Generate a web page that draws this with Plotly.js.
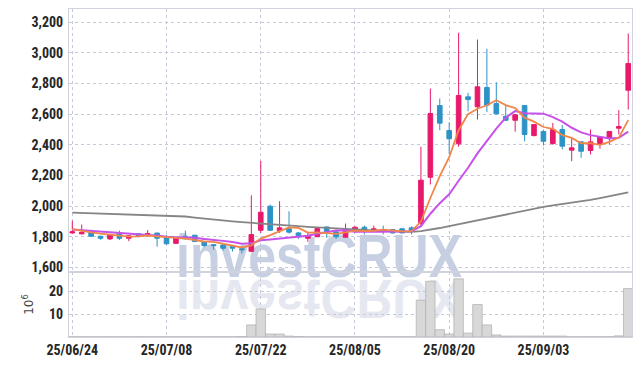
<!DOCTYPE html>
<html><head><meta charset="utf-8">
<script src="https://cdn.plot.ly/plotly-3.0.1.min.js"></script>
<style>
html,body{margin:0;padding:0;background:#fff;}
#wrap{position:relative;width:642px;height:366px;overflow:hidden;}
#wm{position:absolute;left:0;top:0;z-index:0;}
#chart{position:absolute;left:0;top:0;width:642px;height:366px;z-index:1;}
</style></head><body>
<div id="wrap">
<svg id="wm" width="642" height="366">
  <text x="176" y="277" font-family="Liberation Sans, Arial, sans-serif" font-weight="bold" font-size="62" textLength="286" lengthAdjust="spacingAndGlyphs" fill="#c7cfe2">investCRUX</text>
  <g transform="translate(0,280) scale(1,-0.9) translate(0,-280)">
    <text x="176" y="280" font-family="Liberation Sans, Arial, sans-serif" font-weight="bold" font-size="62" textLength="286" lengthAdjust="spacingAndGlyphs" fill="#e6e8f1">investCRUX</text>
  </g>
</svg>
<div id="chart"></div>
</div>
<script>
const dates = ['25/06/24','25/06/25','25/06/26','25/06/27','25/06/30',
 '25/07/01','25/07/02','25/07/03','25/07/04','25/07/07','25/07/08','25/07/09','25/07/10','25/07/11',
 '25/07/14','25/07/15','25/07/16','25/07/17','25/07/18','25/07/21','25/07/22','25/07/23','25/07/24','25/07/25',
 '25/07/28','25/07/29','25/07/30','25/07/31','25/08/01','25/08/04','25/08/05','25/08/06','25/08/07','25/08/08',
 '25/08/11','25/08/12','25/08/13','25/08/14','25/08/18','25/08/19','25/08/20','25/08/21','25/08/22',
 '25/08/25','25/08/26','25/08/27','25/08/28','25/08/29','25/09/01','25/09/02','25/09/03','25/09/04','25/09/05',
 '25/09/08','25/09/09','25/09/10','25/09/11','25/09/12','25/09/15','25/09/16'];
const tickLabels = ['25/06/24','25/07/08','25/07/22','25/08/05','25/08/20','25/09/03'];

const open  = [1825,1819,1829,1803,1786,1824,1790,1820,1813,1824,1800,1757,1803,1810,1769,1748,1746,1742,1722,1705,
               1842,1999,1840,1852,1825,1790,1800,1864,1832,1797,1842,1862,1836,1845,1847,1852,1858,1886,2188,2656,
               2493,2406,2713,2648,2774,2669,2586,2560,2656,2460,2487,2408,2500,2365,2419,2363,2402,2445,2508,2756];
const high  = [1905,1880,1845,1806,1816,1840,1810,1822,1843,1826,1812,1795,1840,1812,1771,1750,1750,1744,1735,2070,
               2295,2010,2032,1966,1830,1825,1856,1868,1847,1886,1868,1873,1873,1873,1850,1855,1868,2387,2767,2702,
               2547,3131,2739,3087,3026,2808,2656,2600,2660,2535,2495,2543,2530,2450,2420,2500,2455,2490,2626,3126];
const low   = [1820,1815,1800,1780,1778,1778,1771,1795,1800,1735,1748,1752,1780,1767,1732,1715,1710,1703,1690,1700,
               1825,1840,1825,1820,1786,1767,1798,1793,1786,1795,1825,1815,1832,1815,1822,1822,1815,1870,2141,2495,
               2340,2387,2619,2565,2613,2598,2558,2485,2423,2455,2395,2400,2370,2293,2315,2337,2374,2402,2467,2630];
const close = [1832,1829,1803,1790,1814,1790,1806,1808,1820,1790,1754,1790,1788,1769,1743,1742,1725,1725,1715,1814,
               1960,1842,1858,1830,1800,1803,1854,1836,1800,1847,1862,1836,1852,1836,1825,1825,1840,2169,2604,2541,
               2439,2722,2695,2778,2658,2602,2560,2596,2467,2532,2423,2500,2391,2380,2358,2419,2452,2487,2519,2930];
const ma5   = [1850,1838,1828,1820,1814,1805,1801,1802,1808,1803,1796,1792,1788,1778,1769,1766,1753,1741,1730,1744,
               1788,1811,1838,1861,1858,1827,1829,1825,1819,1828,1840,1836,1839,1847,1842,1835,1836,1899,2053,2196,
               2319,2495,2600,2635,2658,2691,2659,2639,2577,2551,2516,2504,2463,2445,2410,2410,2400,2419,2447,2561];
const ma10  = [1848,1843,1838,1833,1828,1823,1818,1814,1811,1808,1800,1797,1795,1793,1786,1781,1773,1765,1754,1757,
               1777,1782,1789,1795,1801,1807,1820,1831,1840,1843,1833,1833,1832,1833,1835,1837,1836,1869,1950,2019,
               2077,2165,2250,2344,2427,2505,2577,2620,2606,2605,2603,2581,2551,2511,2481,2463,2452,2441,2446,2486];
const maLong= [1957,1955,1953,1951,1949,1947,1945,1943,1941,1939,1937,1935,1932,1925,1918,1911,1905,1900,1895,1890,
               1886,1882,1878,1873,1869,1865,1861,1857,1853,1850,1847,1844,1841,1838,1835,1833,1832,1836,1845,1857,
               1869,1882,1895,1908,1921,1934,1946,1958,1970,1983,1995,2004,2012,2021,2030,2040,2052,2064,2077,2090];
const volume= [0.1,0.1,0.1,0.1,0.1,0.1,0.1,0.1,0.1,0.1,0.1,0.1,0.1,0.1,0.1,0.1,0.1,0.1,0.2,5.3,
               12.3,1.3,1.3,0.4,0.2,0.1,0.1,0.1,0.1,0.1,0.1,0.1,0.1,0.1,0.1,0.1,0.1,16.2,24.5,3.2,
               1.3,25.6,1.7,14.3,5.3,0.9,0.4,0.4,0.4,0.4,0.4,0.4,0.4,0.1,0.1,0.1,0.1,0.1,0.5,21.3];

const UP = '#e8196b', DOWN = '#2d93c7';
const tickFont = {family:'Liberation Sans Narrow, Roboto Condensed, Roboto, sans-serif', size:14, color:'#262626', weight:'bold'};

const traces = [
  {type:'bar', x:dates, y:volume, xaxis:'x', yaxis:'y2',
   marker:{color:'#d8d8d8', line:{color:'#b4b4b4', width:0.8}}, hoverinfo:'skip'},
  {type:'candlestick', x:dates, open:open, high:high, low:low, close:close, xaxis:'x', yaxis:'y',
   increasing:{line:{color:UP, width:1}, fillcolor:UP},
   decreasing:{line:{color:DOWN, width:1}, fillcolor:DOWN},
   whiskerwidth:0, hoverinfo:'skip'},
  {type:'scatter', mode:'lines', x:dates, y:maLong, xaxis:'x', yaxis:'y', line:{color:'#858585', width:1.8}, hoverinfo:'skip'},
  {type:'scatter', mode:'lines', x:dates, y:ma10, xaxis:'x', yaxis:'y', line:{color:'#c752ea', width:2}, hoverinfo:'skip'},
  {type:'scatter', mode:'lines', x:dates, y:ma5, xaxis:'x', yaxis:'y', line:{color:'#f0864a', width:1.8}, hoverinfo:'skip'}
];

const gridC = '#c6c9da';
const lineC = '#d0d2dc';
const layout = {
  width:642, height:366,
  margin:{l:69, r:10, t:9, b:29},
  paper_bgcolor:'rgba(0,0,0,0)', plot_bgcolor:'rgba(0,0,0,0)',
  showlegend:false, hovermode:false, bargap:0,
  xaxis:{type:'category', range:[-0.35,59.4], anchor:'y2',
         tickvals:tickLabels, ticktext:tickLabels, tickfont:tickFont,
         showgrid:true, gridcolor:gridC, griddash:'dot', gridwidth:1,
         showline:true, linecolor:lineC, mirror:'all', ticks:'', zeroline:false,
         rangeslider:{visible:false}},
  yaxis:{domain:[0.1982,1], range:[1570,3286], dtick:200, tick0:1600, tickformat:',d', tickfont:tickFont,
         showgrid:true, gridcolor:gridC, griddash:'dot', gridwidth:1, ticklabelstandoff:2,
         showline:true, linecolor:lineC, mirror:true, ticks:'', zeroline:false},
  yaxis2:{domain:[0,0.1982], range:[0,28.6], tickvals:[10,20], tickfont:tickFont,
          showgrid:true, gridcolor:gridC, griddash:'dot', gridwidth:1, ticklabelstandoff:2,
          showline:true, linecolor:lineC, mirror:true, ticks:'', zeroline:false,
          title:{text:'10<sup>6</sup>', font:{family:'DejaVu Sans, sans-serif', size:12, color:'#444'}, standoff:12}}
};

Plotly.newPlot('chart', traces, layout, {staticPlot:true, displayModeBar:false});
</script>
</body></html>
